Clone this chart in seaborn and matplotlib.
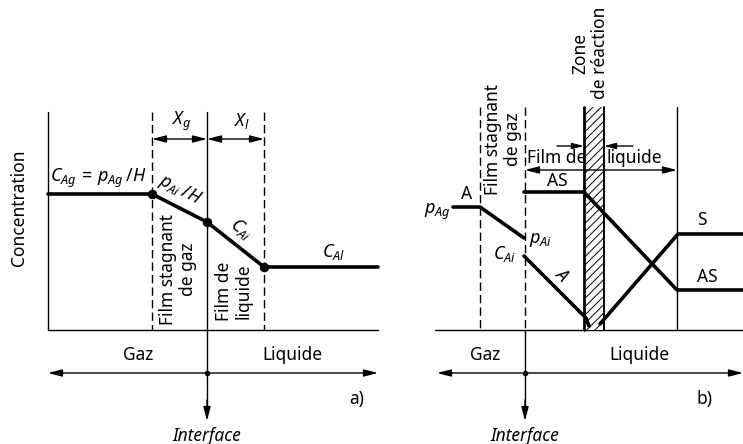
import matplotlib
matplotlib.use("Agg")
import matplotlib.pyplot as plt
from matplotlib.patches import Rectangle
import seaborn as sns

sns.set_style("white")
plt.rcParams['font.family'] = ['Noto Sans', 'DejaVu Sans']
plt.rcParams['text.color'] = 'black'
plt.rcParams['mathtext.fontset'] = 'custom'
plt.rcParams['mathtext.rm'] = 'Noto Sans'
plt.rcParams['mathtext.it'] = 'Noto Sans:italic'
plt.rcParams['hatch.linewidth'] = 0.7

# drawing units = picture pixels, y grows downwards
# panel a) concentration profile (gas -> gas film -> liquid film -> liquid)
a_x = [48, 152, 207, 264, 378]
a_y = [194, 194, 222, 267, 267]
a_knots_x = [152, 207, 264]
a_knots_y = [194, 222, 267]

# panel b) profiles
b_pA_x = [453, 480, 524]
b_pA_y = [207, 207, 238]
b_A_x = [524, 586, 589]
b_A_y = [256, 318, 326]
b_AS_x = [524, 584, 677, 743]
b_AS_y = [192, 192, 290, 290]
b_S_x = [600, 678, 743]
b_S_y = [324, 234, 234]

# boundaries
a_top, b_top, base_y, axis_y = 112, 107, 330, 373
a_left, a_right = 48, 378
b_left, b_right = 437, 743
a_gas_film, a_iface, a_liq_film = 152, 207, 264
b_gas_film, b_iface, b_liq_end = 480, 525, 677
zone_x0, zone_x1 = 584, 604

fig = plt.figure(figsize=(7.43, 4.44), dpi=100)
ax = fig.add_axes([0, 0, 1, 1])
ax.set_xlim(0, 743)
ax.set_ylim(444, 0)
ax.axis('off')

K = 'black'
thin = 1.0
thick = 2.6
dash = (0, (6, 3))
fs = 12.5
ms = 13
ls2 = 1.12


def arrow(x0, y0, x1, y1, style='<|-|>', scale=12):
    ax.annotate('', xy=(x1, y1), xytext=(x0, y0),
                arrowprops=dict(arrowstyle=style + ',head_length=0.7,head_width=0.18',
                                color=K, lw=thin, shrinkA=0, shrinkB=0,
                                mutation_scale=scale))


# ---------- panel a ----------
ax.plot([a_left, a_left], [a_top, base_y], color=K, lw=thin)
ax.plot([a_left, a_right], [base_y, base_y], color=K, lw=thin)
ax.plot([a_gas_film, a_gas_film], [a_top, base_y], color=K, lw=thin, ls=dash)
ax.plot([a_liq_film, a_liq_film], [a_top, base_y], color=K, lw=thin, ls=dash)
ax.plot([a_iface, a_iface], [a_top, 410], color=K, lw=thin)
arrow(a_iface, 400, a_iface, 421, style='-|>')
arrow(a_left, axis_y, a_right, axis_y)
ax.plot([a_iface], [axis_y], 'o', color=K, ms=3)
arrow(a_gas_film, 139, a_iface, 139)
arrow(a_iface, 139, a_liq_film, 139)

sns.lineplot(x=a_x, y=a_y, ax=ax, color=K, lw=thick, sort=False,
             estimator=None, legend=False)
sns.scatterplot(x=a_knots_x, y=a_knots_y, ax=ax, color=K, s=40,
                edgecolor=K, zorder=5, legend=False)

ax.text(19, 208, 'Concentration', rotation=90, ha='center', va='center', fontsize=fs)
ax.text(50, 178, r'$C_{Ag}\,=\,p_{Ag}\,/H$', ha='left', va='center', fontsize=ms)
ax.text(180, 190, r'$p_{Ai}\,/H$', rotation=-27, ha='center', va='center', fontsize=ms)
ax.text(241, 229, r'$C_{Ai}$', rotation=-38, ha='center', va='center', fontsize=ms)
ax.text(334, 252, r'$C_{Al}$', ha='center', va='center', fontsize=ms)
ax.text(182, 121, r'$X_g$', ha='center', va='center', fontsize=ms)
ax.text(242, 121, r'$X_l$', ha='center', va='center', fontsize=ms)
ax.text(178, 269, 'Film stagnant\nde gaz', rotation=90, ha='center', va='center',
        multialignment='center', fontsize=fs, linespacing=ls2)
ax.text(234, 291, 'Film de\nliquide', rotation=90, ha='center', va='center',
        multialignment='center', fontsize=fs, linespacing=ls2)
ax.text(138, 355, 'Gaz', ha='center', va='center', fontsize=fs)
ax.text(292, 355, 'Liquide', ha='center', va='center', fontsize=fs)
ax.text(207, 436, 'Interface', ha='center', va='center', fontsize=fs, style='italic')
ax.text(357, 399, 'a)', ha='center', va='center', fontsize=fs)

# ---------- panel b ----------
ax.plot([b_left - 2, b_right], [base_y, base_y], color=K, lw=thin)
ax.plot([b_gas_film, b_gas_film], [b_top, base_y], color=K, lw=thin, ls=dash)
ax.plot([b_iface, b_iface], [b_top, base_y], color=K, lw=thin, ls=dash)
ax.plot([b_iface, b_iface], [base_y, 410], color=K, lw=thin)
arrow(b_iface, 400, b_iface, 421, style='-|>')
ax.plot([b_liq_end, b_liq_end], [b_top, base_y], color=K, lw=thin)
arrow(b_left, axis_y, b_right, axis_y)
ax.plot([b_iface], [axis_y], 'o', color=K, ms=3)

ax.add_patch(Rectangle((zone_x0, b_top), zone_x1 - zone_x0, base_y - b_top,
                       facecolor='white', edgecolor=K, lw=0, hatch='////',
                       zorder=2))
ax.plot([zone_x0, zone_x0], [b_top, base_y], color=K, lw=2.0, zorder=3)
ax.plot([zone_x1, zone_x1], [b_top, base_y], color=K, lw=1.4, zorder=3)

arrow(b_iface, 170, b_liq_end, 170)
arrow(557, 146, zone_x0, 146, style='-|>', scale=10)
arrow(633, 146, zone_x1, 146, style='-|>', scale=10)

for xs, ys in [(b_pA_x, b_pA_y), (b_A_x, b_A_y), (b_AS_x, b_AS_y), (b_S_x, b_S_y)]:
    sns.lineplot(x=xs, y=ys, ax=ax, color=K, lw=thick, sort=False,
                 estimator=None, legend=False, zorder=4)

ax.text(590, 53, 'Zone\nde réaction', rotation=90, ha='center', va='center',
        multialignment='center', fontsize=fs, linespacing=ls2)
ax.text(503, 139, 'Film stagnant\nde gaz', rotation=90, ha='center', va='center',
        multialignment='center', fontsize=fs, linespacing=ls2)
ax.text(527, 158, 'Film de', ha='left', va='center', fontsize=fs, zorder=5)
ax.text(607, 158, 'liquide', ha='left', va='center', fontsize=fs, zorder=5)
ax.text(467, 194, 'A', ha='center', va='center', fontsize=fs)
ax.text(451, 212, r'$p_{Ag}$', ha='right', va='center', fontsize=ms)
ax.text(529, 240, r'$p_{Ai}$', ha='left', va='center', fontsize=ms)
ax.text(505, 254, r'$C_{Ai}$', ha='center', va='center', fontsize=ms)
ax.text(562, 275, 'A', rotation=-45, ha='center', va='center', fontsize=fs,
        style='italic')
ax.text(557, 181, 'AS', ha='center', va='center', fontsize=fs)
ax.text(702, 220, 'S', ha='center', va='center', fontsize=fs)
ax.text(707, 277, 'AS', ha='center', va='center', fontsize=fs)
ax.text(705, 399, 'b)', ha='center', va='center', fontsize=fs)
ax.text(485, 355, 'Gaz', ha='center', va='center', fontsize=fs)
ax.text(639, 355, 'Liquide', ha='center', va='center', fontsize=fs)
ax.text(525, 436, 'Interface', ha='center', va='center', fontsize=fs, style='italic')

fig.savefig('out.png', dpi=100)
